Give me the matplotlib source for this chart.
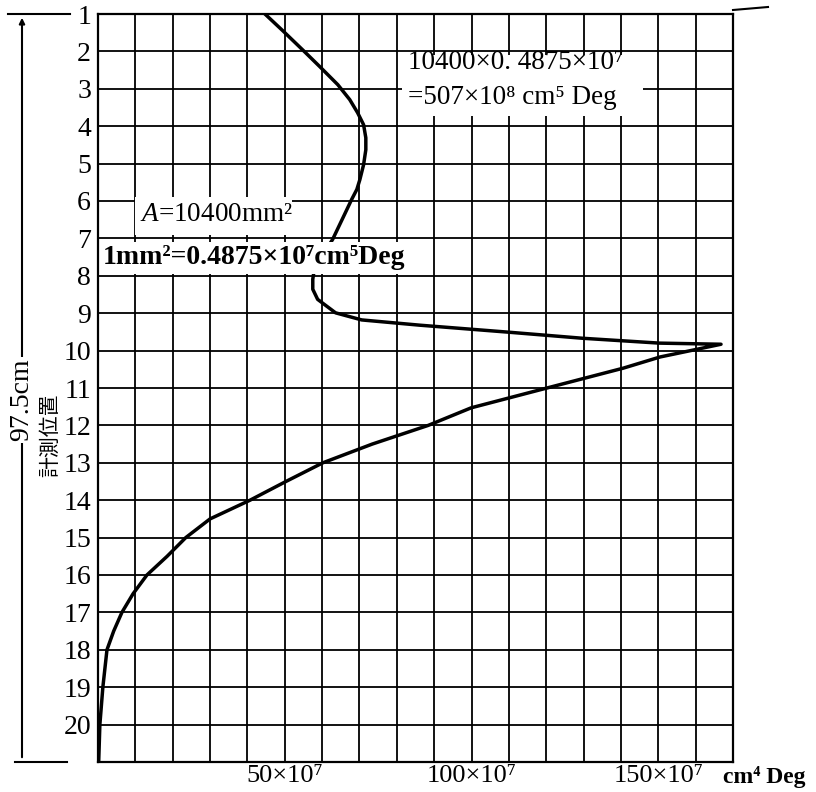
import matplotlib
matplotlib.use("Agg")
import matplotlib.pyplot as plt
from matplotlib.lines import Line2D
from matplotlib.patches import Rectangle, FancyArrowPatch

plt.rcParams['font.family'] = ['Liberation Serif', 'DejaVu Serif']
plt.rcParams['mathtext.fontset'] = 'custom'
plt.rcParams['mathtext.rm'] = 'Liberation Serif'
plt.rcParams['mathtext.it'] = 'Liberation Serif:italic'

# ---- data ----
# x: value in units of 10^7 cm^4 Deg, y: measuring position (1 = top)
upper_x = [44.7, 49.5, 54.8, 59.4, 64.2, 67.4, 69.5, 71.1, 71.7, 71.7, 71.1, 70.1,
           69.3, 67.9, 66.0, 62.8, 60.2, 58.0, 57.5, 57.5, 58.8, 60.8, 63.6, 70.6,
           86.1, 110.2, 129.7, 150.3, 166.8]
upper_y = [1.0, 1.45, 1.96, 2.41, 2.89, 3.29, 3.64, 3.96, 4.31, 4.63, 5.03, 5.43,
           5.69, 5.96, 6.36, 7.03, 7.43, 7.77, 8.09, 8.36, 8.63, 8.78, 8.99, 9.18,
           9.32, 9.51, 9.67, 9.80, 9.83]
lower_x = [166.8, 150.5, 140.6, 120.2, 99.9, 88.4, 73.4, 60.2, 50.3, 40.7, 30.0,
           23.5, 18.5, 13.1, 9.4, 6.4, 4.2, 2.4, 1.3, 0.5, 0.2]
lower_y = [9.83, 10.17, 10.47, 11.0, 11.53, 12.0, 12.5, 13.0, 13.5, 14.0, 14.5,
           15.0, 15.5, 16.0, 16.5, 17.0, 17.5, 18.0, 19.0, 20.0, 20.95]

row_labels = [str(i) for i in range(1, 21)]
row_positions = list(range(1, 21))
x_tick_values = [50, 100, 150]
x_tick_labels = ['50×10⁷', '100×10⁷', '150×10⁷']
x_unit = 'cm⁴ Deg'
note_top = ['10400×0. 4875×10⁷', '=507×10⁸ cm⁵ Deg']
note_area = '$A$=10400mm²'
note_scale = '1mm²=0.4875×10⁷cm⁵Deg'
span_label = '97.5cm'
axis_label = '計測位置'

W, H = 816, 792
fig = plt.figure(figsize=(W / 100, H / 100), dpi=100)
L, R, T, B = 98, 733, 14, 762
ax = fig.add_axes([L / W, 1 - B / H, (R - L) / W, (B - T) / H])
ax.set_xlim(0, 170)
ax.set_ylim(21, 1)

# grid
for gx in range(0, 171, 10):
    ax.axvline(gx, color='black', lw=1.3, zorder=1)
for gy in range(1, 22):
    ax.axhline(gy, color='black', lw=1.3, zorder=1)
for s in ax.spines.values():
    s.set_linewidth(1.6)

# curve
ax.plot(upper_x + lower_x[1:], upper_y + lower_y[1:], color='black', lw=2.5,
        zorder=2, solid_joinstyle='round')

# ticks
ax.set_yticks(row_positions)
ax.set_yticklabels(row_labels, fontsize=20)
ax.set_xticks(x_tick_values)
ax.set_xticklabels(x_tick_labels, fontsize=19)
ax.tick_params(length=0, pad=5)
ax.tick_params(axis='x', pad=2)
ax.text(167.3, 21.12, x_unit, fontsize=17, ha='left', va='top', fontweight='bold')

# annotation boxes (white patches hide the grid)
ax.add_patch(Rectangle((81.4, 2.1), 64.5, 1.62, facecolor='white', edgecolor='none', zorder=3))
ax.text(83.0, 2.31, note_top[0], fontsize=19.5, ha='left', va='center', zorder=4)
ax.text(83.0, 3.22, note_top[1], fontsize=19.5, ha='left', va='center', zorder=4)

ax.add_patch(Rectangle((9.9, 5.9), 42.0, 1.0, facecolor='white', edgecolor='none', zorder=3))
ax.text(11.2, 6.37, note_area, fontsize=19.5, ha='left', va='center', zorder=4)

ax.add_patch(Rectangle((0.5, 7.1), 82.2, 0.85, facecolor='white', edgecolor='none', zorder=3))
ax.text(1.3, 7.5, note_scale, fontsize=20, ha='left', va='center', zorder=4,
        fontweight='bold')

# left dimension line
def fl(x0, y0, x1, y1, lw=1.5):
    fig.add_artist(Line2D([x0 / W, x1 / W], [1 - y0 / H, 1 - y1 / H],
                          transform=fig.transFigure, color='black', lw=lw))

fl(8, 14, 70, 14)
fl(15, 762, 67, 762)
fl(733, 10, 768, 7)
fig.add_artist(FancyArrowPatch(
    (22 / W, 1 - 760 / H), (22 / W, 1 - 15 / H), transform=fig.transFigure,
    arrowstyle='-|>', mutation_scale=8, color='black', lw=1.5))
fig.text(22 / W, 1 - 400 / H, span_label, rotation=90, ha='center', va='center',
         fontsize=20, bbox=dict(facecolor='white', edgecolor='none', pad=1))
fig.text(50 / W, 1 - 435 / H, axis_label, rotation=90, ha='center', va='center',
         fontsize=15, family=['Noto Sans CJK JP', 'DejaVu Sans'])

fig.savefig('out.png', dpi=100)
